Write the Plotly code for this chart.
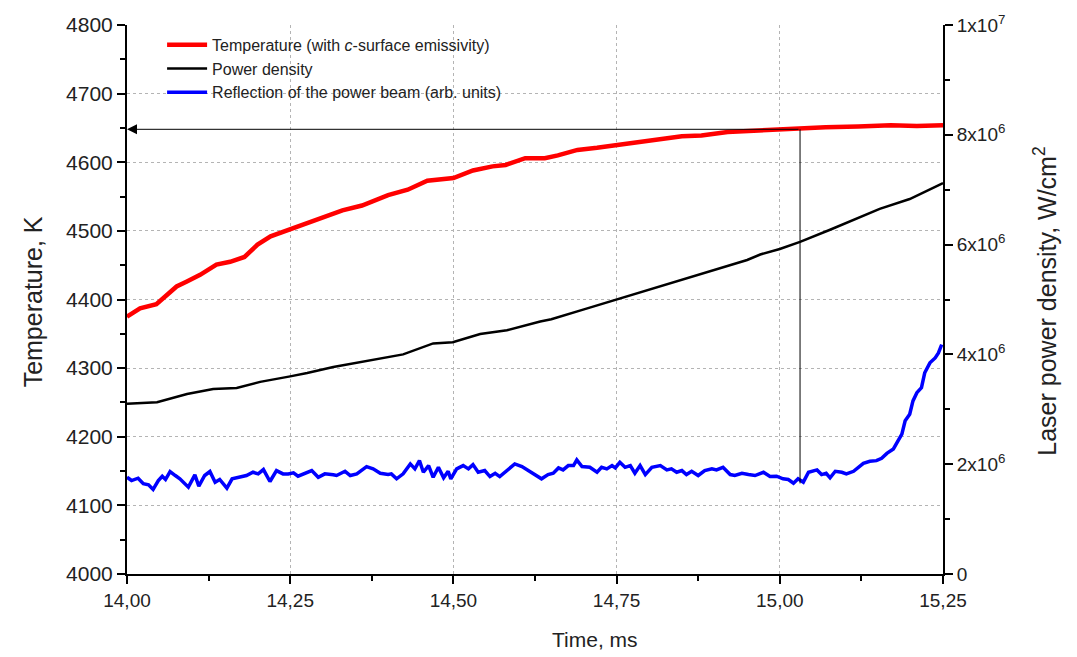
import plotly.graph_objects as go

# ---------------- data ----------------
temp_t = [14.000, 14.020, 14.045, 14.076, 14.091, 14.112, 14.137, 14.158, 14.18, 14.20,
          14.22, 14.25, 14.28, 14.30, 14.33, 14.36, 14.40, 14.43, 14.46, 14.50,
          14.53, 14.56, 14.58, 14.61, 14.64, 14.66, 14.69, 14.72, 14.75, 14.80,
          14.85, 14.88, 14.92, 14.96, 15.00, 15.03, 15.07, 15.12, 15.17, 15.21, 15.25]
temp_v = [4375, 4387, 4393, 4419, 4426, 4436, 4451, 4455, 4462, 4480,
          4492, 4502, 4512, 4520, 4530, 4537, 4552, 4560, 4573, 4577,
          4588, 4594, 4596, 4606, 4606, 4610, 4618, 4621, 4625, 4632,
          4638, 4639, 4644, 4646, 4648, 4648, 4651, 4652, 4654, 4653, 4654]

pd_t = [14.000, 14.046, 14.092, 14.132, 14.168, 14.204, 14.250, 14.276, 14.316, 14.368,
        14.423, 14.469, 14.499, 14.541, 14.582, 14.633, 14.65, 14.70, 14.75, 14.80,
        14.85, 14.90, 14.95, 14.97, 15.00, 15.031, 15.077, 15.153, 15.199, 15.25]
pd_v = [3.10e6, 3.13e6, 3.28e6, 3.37e6, 3.39e6, 3.50e6, 3.60e6, 3.66e6, 3.77e6, 3.88e6,
        4.00e6, 4.20e6, 4.22e6, 4.37e6, 4.44e6, 4.60e6, 4.64e6, 4.82e6, 5.00e6, 5.18e6,
        5.36e6, 5.54e6, 5.72e6, 5.82e6, 5.92e6, 6.05e6, 6.27e6, 6.65e6, 6.83e6, 7.12e6]

refl_t = [14.000, 14.007, 14.017, 14.025, 14.033, 14.040, 14.048, 14.054, 14.059, 14.066,
          14.074, 14.081, 14.094, 14.104, 14.110, 14.119, 14.127, 14.135, 14.142, 14.153,
          14.161, 14.173, 14.183, 14.193, 14.201, 14.209, 14.219, 14.229, 14.239, 14.247,
          14.255, 14.262, 14.273, 14.283, 14.293, 14.303, 14.316,
          14.321, 14.334, 14.342, 14.352, 14.367, 14.377, 14.388, 14.400, 14.405, 14.413,
          14.423, 14.434, 14.441, 14.448, 14.454, 14.462, 14.469, 14.477, 14.485, 14.492,
          14.496, 14.505, 14.515, 14.523, 14.530, 14.538, 14.548, 14.556, 14.564, 14.571,
          14.582, 14.594, 14.605, 14.617, 14.630,
          14.635, 14.645, 14.653, 14.661, 14.668, 14.676, 14.684, 14.689, 14.697, 14.709,
          14.720, 14.727, 14.735, 14.743, 14.748, 14.755, 14.763, 14.771, 14.778, 14.786,
          14.794, 14.804, 14.817, 14.827, 14.834, 14.842, 14.850, 14.857, 14.865, 14.875,
          14.885, 14.896, 14.903, 14.913, 14.924, 14.931, 14.942,
          14.952, 14.962, 14.975, 14.985, 14.995, 15.005, 15.013, 15.021, 15.028, 15.036,
          15.044, 15.057, 15.064, 15.071, 15.077, 15.085, 15.095, 15.102, 15.113, 15.120,
          15.128, 15.138, 15.148, 15.156, 15.164, 15.174, 15.182, 15.187, 15.192, 15.199,
          15.204, 15.210, 15.217, 15.222, 15.230, 15.238, 15.243, 15.248]
refl_v = [4141.0, 4136.2, 4139.6, 4131.5, 4130.0, 4123.2, 4136.2, 4142.5, 4137.7, 4149.3,
          4143.5, 4138.7, 4126.5, 4144.5, 4128.0, 4143.5, 4149.3, 4133.8, 4137.7, 4125.1,
          4138.7, 4141.0, 4143.5, 4148.3, 4145.9, 4152.2, 4134.8, 4150.7, 4145.9, 4145.9,
          4147.4, 4142.5, 4147.4, 4150.7, 4141.0, 4145.9, 4144.5,
          4143.5, 4149.7, 4143.5, 4145.9, 4156.5, 4153.2, 4146.8, 4144.9, 4145.9, 4138.7,
          4145.9, 4160.4, 4153.2, 4165.2, 4148.3, 4158.0, 4141.0, 4155.5, 4140.1, 4149.7,
          4138.7, 4153.2, 4158.0, 4153.2, 4159.4, 4148.3, 4150.7, 4142.0, 4146.8, 4142.0,
          4150.7, 4160.4, 4156.5, 4149.7, 4142.0,
          4138.7, 4144.9, 4146.8, 4154.6, 4151.7, 4158.0, 4158.0, 4166.2, 4156.5, 4155.5,
          4148.3, 4155.5, 4153.2, 4158.0, 4154.6, 4162.8, 4155.5, 4158.0, 4146.8, 4158.0,
          4144.9, 4155.5, 4158.0, 4151.7, 4153.2, 4148.3, 4150.7, 4144.9, 4149.7, 4143.5,
          4150.7, 4153.2, 4151.7, 4155.5, 4144.9, 4143.5, 4146.8,
          4144.9, 4143.5, 4148.3, 4142.0, 4142.5, 4138.7, 4137.7, 4132.3, 4138.7, 4133.8,
          4148.3, 4151.7, 4144.9, 4146.8, 4140.1, 4149.7, 4148.3, 4145.9, 4149.7, 4155.5,
          4161.3, 4164.2, 4165.2, 4168.6, 4175.8, 4182.2, 4194.2, 4203.9, 4223.2, 4232.9,
          4252.2, 4264.2, 4271.5, 4293.2, 4307.7, 4314.9, 4322.2, 4334.4]

x_ticks = [14.0, 14.25, 14.5, 14.75, 15.0, 15.25]
x_ticktext = ["14,00", "14,25", "14,50", "14,75", "15,00", "15,25"]
y_ticks = [4000, 4100, 4200, 4300, 4400, 4500, 4600, 4700, 4800]
y_ticktext = ["4000", "4100", "4200", "4300", "4400", "4500", "4600", "4700", "4800"]
y2_ticks = [0, 2e6, 4e6, 6e6, 8e6, 1e7]
y2_ticktext = ["0", "2x10<sup>6</sup>", "4x10<sup>6</sup>", "6x10<sup>6</sup>",
               "8x10<sup>6</sup>", "1x10<sup>7</sup>"]

# marker lines (arrow from the crossing point to the temperature axis)
mark_time = 15.031
mark_temp = 4648
mark_bottom = 4132

FONT = "Liberation Sans, Arial, sans-serif"

fig = go.Figure()
fig.add_trace(go.Scatter(x=temp_t, y=temp_v, mode="lines",
                         name="Temperature (with <i>c</i>-surface emissivity)",
                         line=dict(color="#ff0000", width=4.5)))
fig.add_trace(go.Scatter(x=pd_t, y=pd_v, mode="lines", yaxis="y2",
                         name="Power density",
                         line=dict(color="#000000", width=2.5)))
fig.add_trace(go.Scatter(x=refl_t, y=refl_v, mode="lines",
                         name="Reflection of the power beam (arb. units)",
                         line=dict(color="#0000ff", width=3.5)))

fig.add_shape(type="line", xref="x", yref="y", x0=mark_time, x1=mark_time,
              y0=mark_temp, y1=mark_bottom, line=dict(color="black", width=1))

annotations = [
    dict(x=14.0, y=mark_temp, ax=mark_time, ay=mark_temp, xref="x", yref="y",
         axref="x", ayref="y", showarrow=True, arrowhead=2, arrowsize=2,
         arrowwidth=1, arrowcolor="black", text=""),
    dict(text="Time, ms", xref="paper", yref="paper", x=0.5735, y=-0.1196,
         xanchor="center", yanchor="middle",
         showarrow=False, font=dict(family=FONT, size=21, color="#222")),
    dict(text="Temperature, K", xref="paper", yref="paper", x=-0.1156, y=0.496,
         xanchor="center", yanchor="middle",
         textangle=-90, showarrow=False, font=dict(family=FONT, size=25, color="#222")),
    dict(text="Laser power density, W/cm<sup>2</sup>", xref="paper", yref="paper",
         x=1.125, y=0.496, xanchor="center", yanchor="middle",
         textangle=-90, showarrow=False,
         font=dict(family=FONT, size=25, color="#222")),
]

axis_common = dict(showline=True, linecolor="black", linewidth=2, ticks="outside",
                   ticklen=8, tickwidth=2, tickcolor="black", zeroline=False)

fig.update_layout(
    width=1077, height=657,
    margin=dict(l=127, r=134, t=22, b=83),
    paper_bgcolor="white", plot_bgcolor="white",
    font=dict(family=FONT, color="#222"),
    annotations=annotations,
    showlegend=True,
    legend=dict(x=0.043, y=0.995, xanchor="left", yanchor="top",
                bgcolor="rgba(0,0,0,0)", font=dict(family=FONT, size=16, color="#222"),
                tracegroupgap=0, itemwidth=40),
    xaxis=dict(range=[14.0, 15.25], tickmode="array", tickvals=x_ticks,
               ticktext=x_ticktext, tickfont=dict(family=FONT, size=19, color="#222"),
               showgrid=True, gridcolor="#b4b4b4", gridwidth=1, griddash="dot",
               minor=dict(tickmode="linear", tick0=14.0, dtick=0.125, ticks="outside",
                          ticklen=5, tickwidth=2, tickcolor="black", showgrid=False),
               **axis_common),
    yaxis=dict(range=[4000, 4800], tickmode="array", tickvals=y_ticks,
               ticktext=y_ticktext, tickfont=dict(family=FONT, size=21, color="#222"),
               showgrid=True, gridcolor="#b4b4b4", gridwidth=1, griddash="dot",
               minor=dict(tickmode="linear", tick0=4000, dtick=50, ticks="outside",
                          ticklen=5, tickwidth=2, tickcolor="black", showgrid=False),
               **axis_common),
    yaxis2=dict(range=[0, 1e7], overlaying="y", side="right", tickmode="array",
                tickvals=y2_ticks, ticktext=y2_ticktext,
                tickfont=dict(family=FONT, size=19, color="#222"), showgrid=False,
                minor=dict(tickmode="linear", tick0=0, dtick=1e6, ticks="outside",
                           ticklen=5, tickwidth=2, tickcolor="black", showgrid=False),
                **axis_common),
)

fig.write_html("out.html")
